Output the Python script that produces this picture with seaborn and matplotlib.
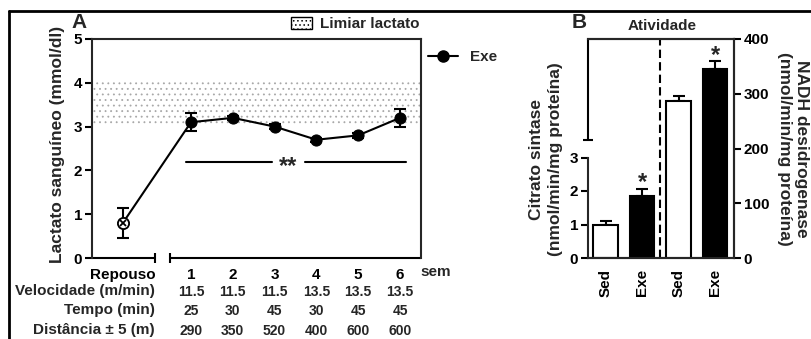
import numpy as np
import pandas as pd
import matplotlib
matplotlib.use('Agg')
import matplotlib.pyplot as plt
import matplotlib.transforms as mtransforms
from matplotlib.patches import Patch
from matplotlib.lines import Line2D
import seaborn as sns

# Panel A - blood lactate during training weeks
week_labels = ['Repouso', '1', '2', '3', '4', '5', '6']
week_pos = [-0.63, 1, 2, 3, 4, 5, 6]
lactate_mean = [0.8, 3.1, 3.2, 3.0, 2.7, 2.8, 3.2]
lactate_sem = [0.35, 0.2, 0.05, 0.05, 0.05, 0.05, 0.2]
threshold = [3.05, 4.05]
row_names = ['Velocidade (m/min)', 'Tempo (min)', 'Distância ± 5 (m)']
velocidade = ['11.5', '11.5', '11.5', '13.5', '13.5', '13.5']
tempo = ['25', '30', '45', '30', '45', '45']
distancia = ['290', '350', '520', '400', '600', '600']

# Panel B - enzyme activity
groups = ['Sed', 'Exe']
cs_mean = [1.0, 1.85]
cs_sem = [0.1, 0.2]
nadh_mean = [287, 345]
nadh_sem = [8, 15]

sns.set_theme(style='ticks')
plt.rcParams['font.family'] = ['Liberation Sans', 'DejaVu Sans']
plt.rcParams['font.weight'] = 'bold'
plt.rcParams['axes.labelweight'] = 'bold'
plt.rcParams['axes.linewidth'] = 1.5
plt.rcParams['hatch.linewidth'] = 0.6
plt.rcParams['xtick.color'] = 'black'
plt.rcParams['ytick.color'] = 'black'

W, H = 812, 339
fig = plt.figure(figsize=(W / 100, H / 100), dpi=100)

def fx(px):
    return px / W

def fy(py):
    return 1 - py / H

ax = fig.add_axes([fx(92), fy(258), 329 / W, 219 / H])
axb = fig.add_axes([fx(588), fy(258), 146 / W, 219 / H])

# ---------- Panel A ----------
df_a = pd.DataFrame({'semana': week_pos, 'lactato': lactate_mean})
ax.axhspan(threshold[0], threshold[1], facecolor='none', edgecolor='#a8a8a8',
           hatch='...', linewidth=0, zorder=0)
ax.errorbar(week_pos, lactate_mean, yerr=lactate_sem, fmt='none', ecolor='black',
            elinewidth=1.5, capsize=4, capthick=1.5, zorder=2)
sns.lineplot(data=df_a, x='semana', y='lactato', color='black', lw=1.5,
             marker='o', markersize=8, markeredgecolor='black', ax=ax, zorder=3)
ax.plot(week_pos[0], lactate_mean[0], marker='o', mfc='white', mec='black',
        ms=8, mew=1.3, zorder=4)
ax.plot(week_pos[0], lactate_mean[0], marker='x', color='black', ms=5, mew=1.3, zorder=5)

xlo, xhi = -1.368, 6.502
ax.set_xlim(xlo, xhi)
ax.set_ylim(0, 5)
ax.set_yticks([0, 1, 2, 3, 4, 5])
ax.set_xticks(week_pos, week_labels)
ax.tick_params(axis='x', length=0, pad=7, labelsize=11)
ax.tick_params(axis='y', length=5, width=1.5, labelsize=11, pad=2)
ax.set_xlabel('')
ax.set_ylabel('Lactato sanguíneo (mmol/dl)', fontsize=12.5, va='center', ha='center')
ax.yaxis.set_label_coords(-0.105, 0.52)

# broken x axis
ax.spines['bottom'].set_visible(False)
for seg in [(xlo, 0.139), (0.498, xhi)]:
    ax.plot(seg, [0, 0], color='black', lw=1.5, clip_on=False, solid_capstyle='butt')
ax.plot([0.139, 0.498], [0, 0], ls='none', marker='|', ms=7, mew=1.5,
        color='black', clip_on=False)

# significance bar
ax.plot([0.88, 2.94], [2.2, 2.2], color='black', lw=1.5)
ax.plot([3.73, 6.14], [2.2, 2.2], color='black', lw=1.5)
ax.text(3.33, 2.1, '**', ha='center', va='center', fontsize=17)

leg1 = ax.legend(handles=[Patch(facecolor='white', edgecolor='black', hatch='....', lw=1)],
                 labels=['Limiar lactato'], loc='center right', bbox_to_anchor=(0.995, 1.068),
                 frameon=False, borderpad=0, borderaxespad=0, handlelength=1.4,
                 handleheight=0.9, handletextpad=0.5, fontsize=11)
ax.add_artist(leg1)
ax.legend(handles=[Line2D([], [], color='black', marker='o', ms=8, lw=1.5)], labels=['Exe'],
          loc='center left', bbox_to_anchor=(1.02, 0.918), frameon=False, borderpad=0,
          borderaxespad=0, handlelength=2.0, handletextpad=0.8, fontsize=11)

# table rows under panel A
trans = mtransforms.blended_transform_factory(ax.transData, fig.transFigure)
ax.text(6.86, fy(272), 'sem', transform=trans, ha='center', va='center', fontsize=11)
for name, vals, ypx in zip(row_names, [velocidade, tempo, distancia], [291, 310, 330]):
    fig.text(fx(155), fy(ypx), name, ha='right', va='center', fontsize=11)
    for xp, v in zip(week_pos[1:], vals):
        ax.text(xp, fy(ypx + 1), v, transform=trans, ha='center', va='center', fontsize=10)

fig.text(fx(79), fy(22), 'A', ha='center', va='center', fontsize=15)

# ---------- Panel B ----------
axr = axb.twinx()
df_cs = pd.DataFrame({'pos': [0, 1], 'grupo': groups, 'valor': cs_mean})
df_nadh = pd.DataFrame({'pos': [2, 3], 'grupo': groups, 'valor': nadh_mean})
pal = {'Sed': 'white', 'Exe': 'black'}
sns.barplot(data=df_cs, x='pos', y='valor', hue='grupo', palette=pal, native_scale=True,
            width=0.66, edgecolor='black', linewidth=1.5, dodge=False, errorbar=None,
            legend=False, ax=axb)
sns.barplot(data=df_nadh, x='pos', y='valor', hue='grupo', palette=pal, native_scale=True,
            width=0.66, edgecolor='black', linewidth=1.5, dodge=False, errorbar=None,
            legend=False, ax=axr)
axb.errorbar([0, 1], cs_mean, yerr=[[0, 0], cs_sem], fmt='none', ecolor='black',
             elinewidth=1.5, capsize=4, capthick=1.5, zorder=0)
axr.errorbar([2, 3], nadh_mean, yerr=[[0, 0], nadh_sem], fmt='none', ecolor='black',
             elinewidth=1.5, capsize=4, capthick=1.5, zorder=0)

axb.set_xlim(-0.48, 3.52)
axb.set_ylim(0, 219 / 33.5)
axr.set_ylim(0, 400)
axb.axvline(1.5, color='black', lw=1.5, ls=(0, (4, 2)))

axb.set_xticks([0, 1, 2, 3], ['Sed', 'Exe', 'Sed', 'Exe'], rotation=90)
axb.tick_params(axis='x', length=0, pad=8, labelsize=11)
axb.set_yticks([0, 1, 2, 3])
axb.tick_params(axis='y', length=5, width=1.5, labelsize=11, pad=2)
axr.set_yticks([0, 100, 200, 300, 400])
axr.tick_params(axis='y', length=5, width=1.5, labelsize=11, pad=2)
axb.set_xlabel('')
axr.set_xlabel('')

# broken left axis
axb.spines['left'].set_bounds(0, 3)
axr.spines['left'].set_visible(False)
axb.plot([0, 0], [0.539, 1], transform=axb.transAxes, color='black', lw=1.5, clip_on=False)
axb.plot([0], [0.539], transform=axb.transAxes, marker='_', ms=7, mew=1.5,
         color='black', clip_on=False)

axb.text(1, cs_mean[1] + cs_sem[1] + 0.2, '*', ha='center', va='center', fontsize=17)
axr.text(3, nadh_mean[1] + nadh_sem[1] + 9, '*', ha='center', va='center', fontsize=17)

axb.set_ylabel('Citrato sintase\n(nmol/min/mg proteína)', fontsize=12.5,
               va='center', ha='center', linespacing=1.35)
axb.yaxis.set_label_coords(-0.29, 0.452)
axr.set_ylabel('NADH desidrogenase\n(nmol/min/mg proteína)', fontsize=12.5, rotation=270,
               va='center', ha='center', linespacing=1.2)
axr.yaxis.set_label_coords(1.404, 0.5)

fig.text(fx(662), fy(26), 'Atividade', ha='center', va='center', fontsize=11)
fig.text(fx(579), fy(23), 'B', ha='center', va='center', fontsize=15)

# outer frame
fig.add_artist(Line2D([fx(9), 1], [fy(11), fy(11)], transform=fig.transFigure,
                      color='black', lw=2))
fig.add_artist(Line2D([fx(9), fx(9)], [0, fy(11)], transform=fig.transFigure,
                      color='black', lw=2))

fig.savefig('out.png', dpi=100)
